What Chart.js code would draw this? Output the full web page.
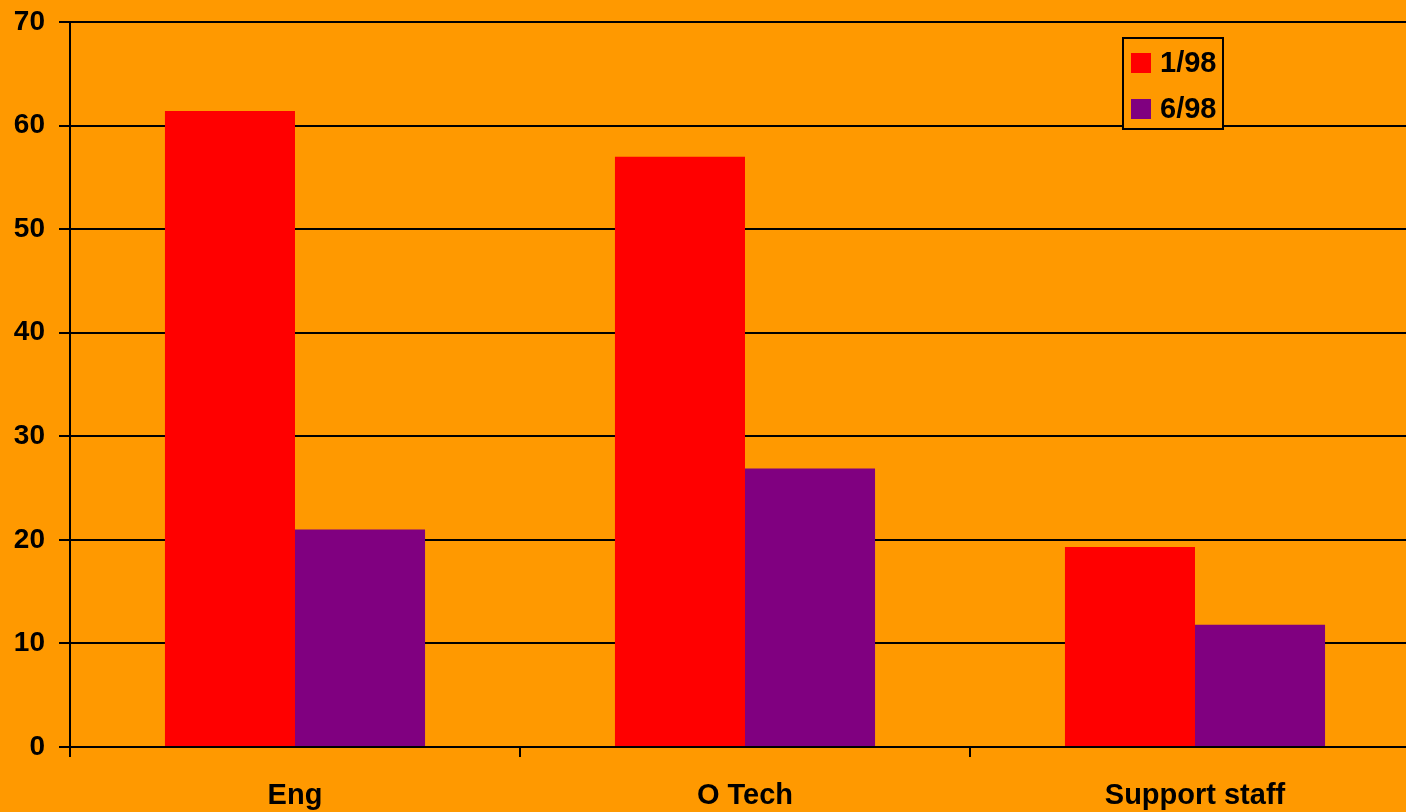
<!DOCTYPE html>
<html>
<head>
<meta charset="utf-8">
<script src="https://cdn.jsdelivr.net/npm/chart.js@4/dist/chart.umd.min.js"></script>
<style>
  html, body { margin: 0; padding: 0; background: #FF9900; overflow: hidden; }
  #wrap { width: 1430px; height: 812px; }
</style>
</head>
<body>
<div id="wrap"><canvas id="myChart" width="1430" height="812"></canvas></div>
<script>
// data
const categories = ['Eng', 'O Tech', 'Support staff'];
const jan98 = [61.4, 57.0, 19.3];
const jun98 = [21.0, 26.9, 11.8];
const seriesNames = ['1/98', '6/98'];
const yTicks = [0, 10, 20, 30, 40, 50, 60, 70];

const font = { family: "'Liberation Sans', Arial, sans-serif", size: 28, weight: 'bold' };
const xFont = { family: "'Liberation Sans', Arial, sans-serif", size: 29, weight: 'bold' };

// boxed legend sitting inside the plot area
const boxLegend = {
  id: 'boxLegend',
  afterDraw(chart) {
    const ctx = chart.ctx;
    ctx.save();
    ctx.fillStyle = '#FF9900';
    ctx.fillRect(1123, 38, 100, 91);
    ctx.strokeStyle = '#000';
    ctx.lineWidth = 2;
    ctx.strokeRect(1123, 38, 100, 91);
    ctx.font = 'bold 29px "Liberation Sans", Arial, sans-serif';
    ctx.textBaseline = 'middle';
    chart.data.datasets.forEach((ds, i) => {
      const cy = 63 + i * 46;
      ctx.fillStyle = ds.backgroundColor;
      ctx.fillRect(1131, cy - 10, 20, 20);
      ctx.fillStyle = '#000';
      ctx.fillText(ds.label, 1160, cy + 1);
    });
    ctx.restore();
  }
};

const config = {
  type: 'bar',
  data: {
    labels: categories,
    datasets: [{
      label: seriesNames[0],
      backgroundColor: '#FF0000',
      data: jan98,
    }, {
      label: seriesNames[1],
      backgroundColor: '#800080',
      data: jun98,
    }]
  },
  options: {
    responsive: false,
    animation: false,
    devicePixelRatio: 1,
    categoryPercentage: 0.578,
    barPercentage: 1,
    layout: { padding: { top: 22, right: 10, left: 0, bottom: 0 } },
    scales: {
      x: {
        grid: {
          offset: true,
          drawOnChartArea: false,
          drawTicks: true,
          tickLength: 10,
          color: '#000',
          lineWidth: 2,
        },
        border: { display: true, color: '#000', width: 2 },
        ticks: { color: '#000', font: xFont, padding: 22, maxRotation: 0 },
        afterFit(scale) { scale.height = 65; scale.paddingLeft = 0; scale.paddingRight = 0; }
      },
      y: {
        min: 0,
        max: 70,
        afterBuildTicks(scale) { scale.ticks = yTicks.map(v => ({ value: v })); },
        grid: {
          color: '#000',
          lineWidth: 2,
          tickLength: 11,
        },
        border: { display: true, color: '#000', width: 2 },
        ticks: { color: '#000', font: font, padding: 14 },
        afterFit(scale) { scale.width = 70; scale.paddingTop = 0; scale.paddingBottom = 0; }
      }
    },
    plugins: {
      legend: { display: false },
      tooltip: { enabled: false }
    }
  },
  plugins: [boxLegend]
};

const myChart = new Chart(document.getElementById('myChart'), config);
</script>
</body>
</html>
